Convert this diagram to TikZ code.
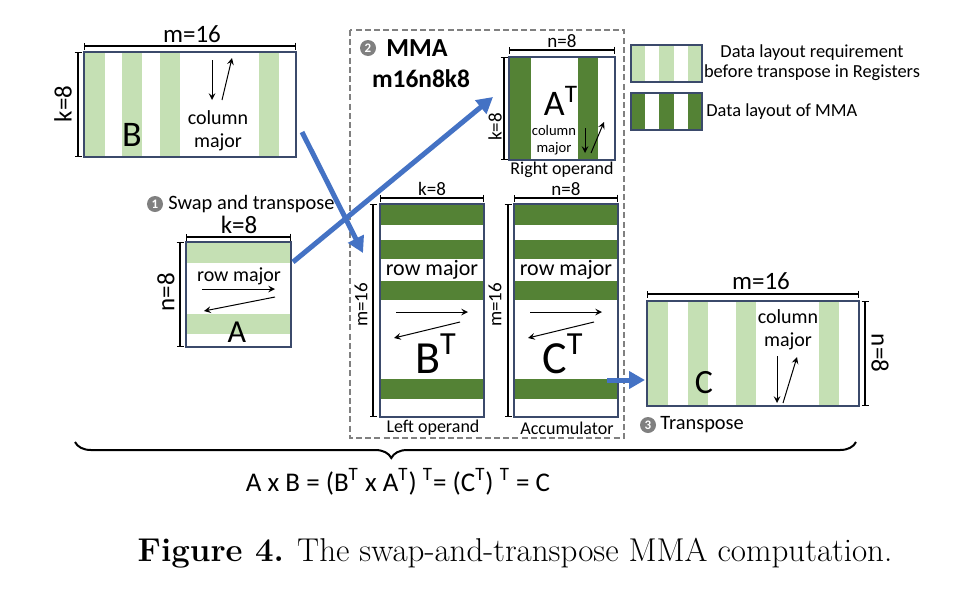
\documentclass[tikz,border=0pt]{standalone}
\usepackage{fontspec}
\setmainfont{Carlito}
\newfontfamily\capfont{Latin Modern Roman}
\usetikzlibrary{arrows.meta,decorations.pathreplacing}
\definecolor{litegreen}{HTML}{C5E0B4}
\definecolor{darkgreen}{HTML}{548235}
\definecolor{flowblue}{HTML}{4472C4}
\definecolor{boxline}{HTML}{3B4A6B}
\definecolor{numgray}{HTML}{808080}
\tikzset{
  mat/.style={draw=boxline, line width=0.6pt},
  lite/.style={fill=litegreen},
  dark/.style={fill=darkgreen},
  dim/.style={{Bar[width=3.5pt]}-{Bar[width=3.5pt]}, line width=0.6pt},
  walk/.style={->, line width=0.5pt},
  flow/.style={draw=flowblue, line width=2.5pt, -{Triangle[length=8pt,width=8.5pt]}},
  dimbig/.style={font=\fontsize{12.5}{14}\selectfont},
  dimsmall/.style={font=\fontsize{9.5}{11}\selectfont},
  note/.style={font=\fontsize{10}{11.5}\selectfont, align=center},
  tiny note/.style={font=\fontsize{7.3}{8.5}\selectfont, align=center},
  caption text/.style={font=\fontsize{9}{10}\selectfont},
  letter/.style={anchor=base, inner sep=0pt},
  num/.style={circle, fill=numgray, text=white, inner sep=0pt, minimum size=8pt,
    font=\bfseries\fontsize{6.5}{7}\selectfont}
}
\begin{document}
\begin{tikzpicture}[x=0.5pt, y=-0.5pt, >=stealth]
  \useasboundingbox (0,0) rectangle (972,600);
  % 行列 B (column major)
  \foreach \a/\b in {84/105,122/142,160/180,259/279}
    \fill[lite] (\a,52) rectangle (\b,157);
  \draw[mat] (84,52) rectangle (296,157);
  \draw[dim] (84,46) -- (296,46);
  \node[dimbig] (mB) at (192,34) {m=16};
  \draw[dim] (78,52) -- (78,157);
  \node[dimbig, rotate=90] (kB) at (63,104) {k=8};
  \node[letter, font=\fontsize{18}{20}\selectfont] (nameB) at (132,146) {B};
  \node[note] (colB) at (218,131) {column\\major};
  \draw[walk] (212,60) -- (212,100);
  \draw[walk] (222,100) -- (232,58);

  % 行列 A (row major)
  \foreach \a/\b in {242/263,314/334}
    \fill[lite] (186,\a) rectangle (291,\b);
  \draw[mat] (186,242) rectangle (291,347);
  \draw[dim] (186,237) -- (291,237);
  \node[dimbig] (kA) at (239,225) {k=8};
  \draw[dim] (180,242) -- (180,347);
  \node[dimbig, rotate=90] (nA) at (166,292) {n=8};
  \node[letter, font=\fontsize{16}{18}\selectfont] (nameA) at (237,342) {A};
  \node[note] (rowA) at (239,276) {row major};
  \draw[walk] (202,289) -- (275,289);
  \draw[walk] (275,297) -- (204,311);
  \node[num] (one) at (155,204) {1};
  \node[anchor=west, font=\fontsize{10.2}{11}\selectfont, inner sep=0pt] (swap) at (168,204) {Swap and transpose};

  % MMA の枠
  \draw[numgray, line width=0.9pt, dash pattern=on 3pt off 1.6pt] (350,30) rectangle (624,438);
  \node[num] (two) at (368,48) {2};
  \node[anchor=west, font=\bfseries\fontsize{13}{14}\selectfont, inner sep=0pt] (mma) at (386,48) {MMA};
  \node[font=\bfseries\fontsize{12.7}{14}\selectfont] (shape) at (421,79) {m16n8k8};

  % A^T (Right operand)
  \foreach \a/\b in {509/531,578/598}
    \fill[dark] (\a,57) rectangle (\b,160);
  \draw[mat] (509,57) rectangle (615,160);
  \draw[dim] (509,50) -- (615,50);
  \node[dimsmall] (nAT) at (562,41) {n=8};
  \draw[dim] (504,57) -- (504,160);
  \node[dimsmall, rotate=90] (kAT) at (495,127) {k=8};
  \node[letter, font=\fontsize{18}{20}\selectfont] (nameAT) at (561,115) {A\textsuperscript{T}};
  \node[tiny note] (colAT) at (554,140) {column\\major};
  \draw[walk] (585,128) -- (585,153);
  \draw[walk] (591,153) -- (604,122);
  \node[caption text] (right) at (562,170) {Right operand};

  % B^T (Left operand)
  \foreach \a/\b in {204/225,240/259,281/300,379/399}
    \fill[dark] (380,\a) rectangle (484,\b);
  \draw[mat] (380,204) rectangle (484,417);
  \draw[dim] (380,198) -- (484,198);
  \node[dimsmall] (kBT) at (432,189) {k=8};
  \draw[dim] (373,204) -- (373,417);
  \node[dimsmall, rotate=90] (mBT) at (361,305) {m=16};
  \node[letter, font=\fontsize{23}{25}\selectfont] (nameBT) at (436,373) {B\textsuperscript{T}};
  \node[note, font=\fontsize{11}{13}\selectfont] (rowBT) at (432,270) {row major};
  \draw[walk] (396,312) -- (468,312);
  \draw[walk] (460,322) -- (394,338);
  \node[caption text] (left) at (433,428) {Left operand};

  % C^T (Accumulator)
  \foreach \a/\b in {204/225,240/259,281/300,379/399}
    \fill[dark] (514,\a) rectangle (618,\b);
  \draw[mat] (514,204) rectangle (618,417);
  \draw[dim] (514,198) -- (618,198);
  \node[dimsmall] (nCT) at (566,189) {n=8};
  \draw[dim] (508,204) -- (508,417);
  \node[dimsmall, rotate=90] (mCT) at (495,305) {m=16};
  \node[letter, font=\fontsize{23}{25}\selectfont] (nameCT) at (563,373) {C\textsuperscript{T}};
  \node[note, font=\fontsize{11}{13}\selectfont] (rowCT) at (566,270) {row major};
  \draw[walk] (530,312) -- (602,312);
  \draw[walk] (594,322) -- (528,338);
  \node[caption text] (acc) at (567,428) {Accumulator};

  % 行列 C (column major)
  \foreach \a/\b in {647/668,688/708,736/756,819/839}
    \fill[lite] (\a,301) rectangle (\b,406);
  \draw[mat] (647,301) rectangle (859,406);
  \draw[dim] (647,294) -- (859,294);
  \node[dimbig] (mC) at (761,281) {m=16};
  \draw[dim] (865,301) -- (865,406);
  \node[dimbig, rotate=-90] (nC) at (880,353) {n=8};
  \node[letter, font=\fontsize{17}{19}\selectfont] (nameC) at (704,393) {C};
  \node[note] (colC) at (788,330) {column\\major};
  \draw[walk] (777,356) -- (777,403);
  \draw[walk] (783,403) -- (797,357);
  \node[num] (three) at (648,425) {3};
  \node[anchor=west, font=\fontsize{10.2}{11}\selectfont, inner sep=0pt] (trans) at (660,425) {Transpose};

  % 青い矢印
  \coordinate (fromB) at (302,132);
  \coordinate (toBT) at (363,253);
  \coordinate (fromA) at (293,262);
  \coordinate (toAT) at (493,97);
  \coordinate (fromCT) at (607,380);
  \coordinate (toC) at (645,380);
  \draw[flow] (fromB) -- (toBT);
  \draw[flow] (fromA) -- (toAT);
  \draw[flow] (fromCT) -- (toC);

  % 凡例
  \foreach \a/\b in {631/645.2,659.4/673.6,687.8/702}{
    \fill[lite] (\a,45) rectangle (\b,82);
    \fill[dark] (\a,93) rectangle (\b,130);
  }
  \draw[mat] (631,45) rectangle (702,82);
  \draw[mat] (631,93) rectangle (702,130);
  \node[font=\fontsize{9.2}{10}\selectfont, align=center] (keyLite) at (812,63) {Data layout requirement\\before transpose in Registers};
  \node[anchor=west, font=\fontsize{9.2}{10}\selectfont, inner sep=0pt] (keyDark) at (706,112) {Data layout of MMA};

  % 括弧と式
  \draw[line width=1pt, decorate, decoration={brace, mirror, amplitude=8pt, aspect=0.405}] (75,442) -- (856,442);
  \node[font=\fontsize{13.5}{15}\selectfont] (eq) at (398,482)
    {A x B = (B\textsuperscript{T} x A\textsuperscript{T}) \textsuperscript{T}= (C\textsuperscript{T}) \textsuperscript{T} = C};

  % キャプション
  \node[font=\capfont\fontsize{16.5}{18}\selectfont] (cap) at (515,553)
    {\textbf{Figure 4.} The swap-and-transpose MMA computation.};
\end{tikzpicture}
\end{document}
